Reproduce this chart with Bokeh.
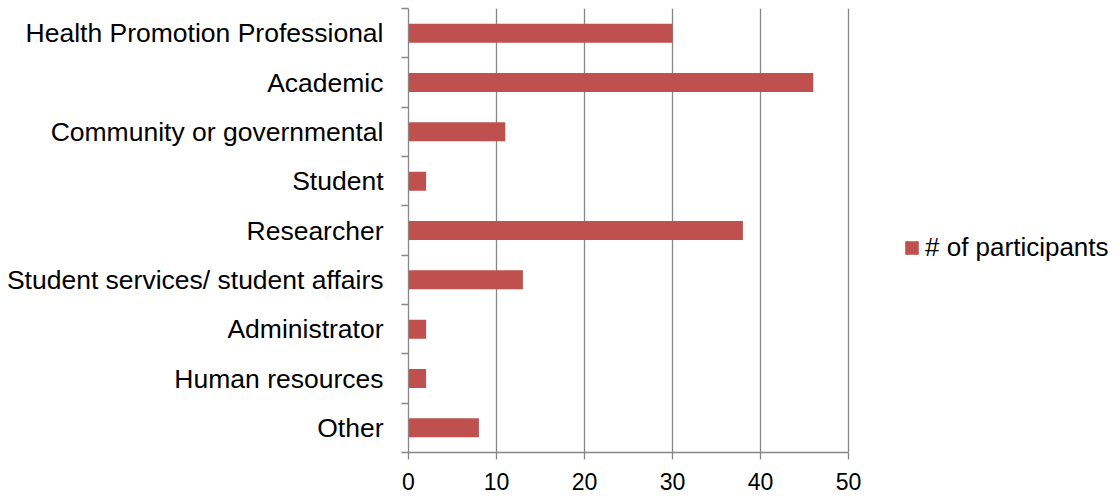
from bokeh.plotting import figure
from bokeh.models import FixedTicker, Legend, LegendItem, Range1d
from bokeh.embed import file_html
from bokeh.resources import INLINE

categories = [
    "Health Promotion Professional",
    "Academic",
    "Community or governmental",
    "Student",
    "Researcher",
    "Student services/ student affairs",
    "Administrator",
    "Human resources",
    "Other",
]
participants = [30, 46, 11, 2, 38, 13, 2, 2, 8]
x_ticks = [0, 10, 20, 30, 40, 50]

BAR = "#C0504D"
GRID = "#868686"
FONT = "Liberation Sans"

n = len(categories)
# first category at the top
ypos = [n - i for i in range(n)]
boundaries = [k + 0.5 for k in range(n + 1)]

# the frame runs to the right edge so the legend can sit beside the bars;
# the axis and grid stop at the last tick
LEFT, WIDTH = 408, 1120
x_end = x_ticks[-1] * (WIDTH - LEFT) / 440.0

p = figure(
    width=WIDTH, height=498,
    output_backend="svg", toolbar_location=None,
    x_range=Range1d(0, x_end), y_range=Range1d(0.5, n + 0.5),
    min_border_left=LEFT, min_border_right=0,
    min_border_top=8, min_border_bottom=46,
)
p.outline_line_color = None
p.background_fill_color = "white"

r = p.hbar(y=ypos, right=participants, left=0, height=0.385,
           fill_color=BAR, line_color=None)

# x axis
xa = p.xaxis[0]
xa.ticker = FixedTicker(ticks=x_ticks)
xa.bounds = (x_ticks[0], x_ticks[-1])
xa.axis_line_color = GRID
xa.axis_line_width = 1.3
xa.major_tick_line_color = GRID
xa.major_tick_line_width = 1.3
xa.major_tick_in = 0
xa.major_tick_out = 7
xa.minor_tick_line_color = None
xa.major_label_text_font = FONT
xa.major_label_text_font_size = "23px"
xa.major_label_text_color = "black"
xa.major_label_standoff = 13

# y axis: labels at category centers, ticks at the boundaries
ya = p.yaxis[0]
ya.ticker = FixedTicker(ticks=ypos, minor_ticks=boundaries)
ya.major_label_overrides = {y: c for y, c in zip(ypos, categories)}
ya.axis_line_color = GRID
ya.axis_line_width = 1.3
ya.major_tick_line_color = None
ya.major_tick_in = 0
ya.major_tick_out = 7
ya.minor_tick_line_color = GRID
ya.minor_tick_line_width = 1.3
ya.minor_tick_in = 0
ya.minor_tick_out = 7
ya.major_label_text_font = FONT
ya.major_label_text_font_size = "26.5px"
ya.major_label_text_color = "black"
ya.major_label_standoff = 18

p.xgrid.ticker = FixedTicker(ticks=x_ticks)
p.xgrid.grid_line_color = GRID
p.xgrid.grid_line_width = 1.3
p.ygrid.grid_line_color = None

legend = Legend(
    items=[LegendItem(label="# of participants", renderers=[r])],
    location=(495, 189),
    padding=0, margin=0, spacing=0,
    glyph_width=17, glyph_height=17, label_standoff=5,
    border_line_color=None, background_fill_alpha=0,
    label_text_font=FONT, label_text_font_size="26px",
    label_text_color="black",
)
p.add_layout(legend, "center")

open("out.html", "w").write(file_html(p, INLINE))
